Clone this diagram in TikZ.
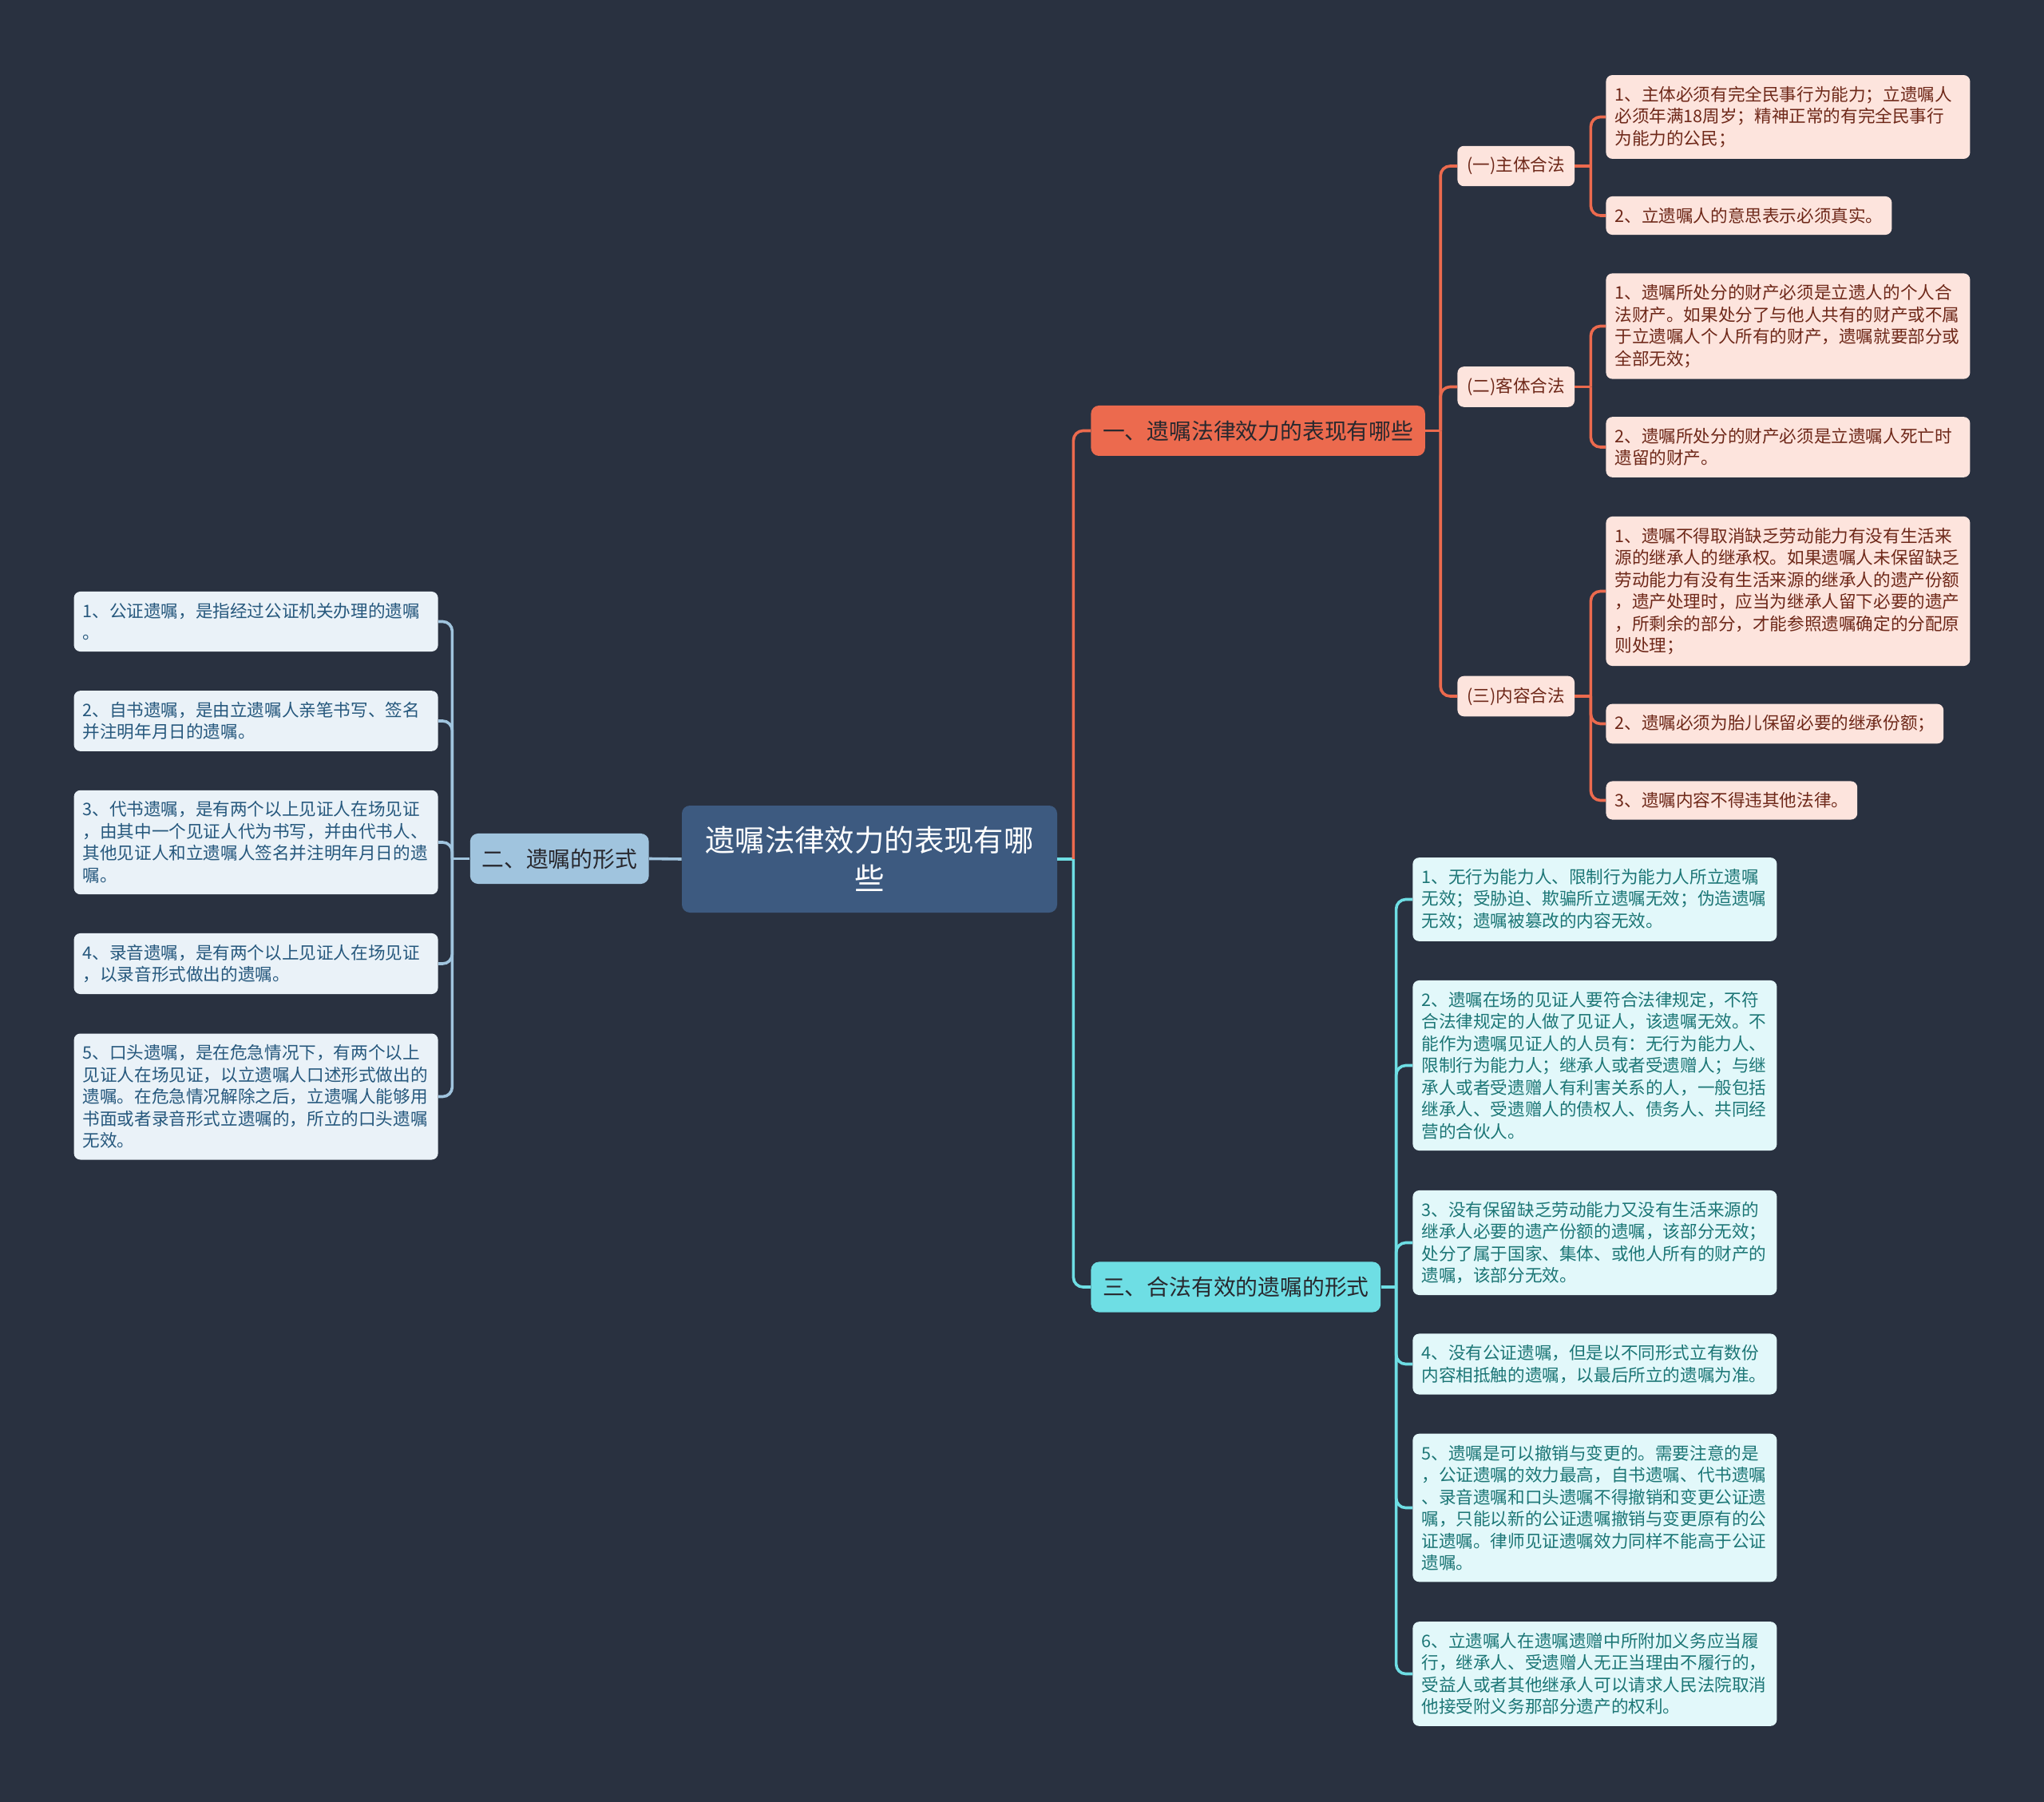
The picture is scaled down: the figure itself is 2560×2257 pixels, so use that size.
\documentclass[tikz,border=0pt]{standalone}
\usepackage{fontspec}
\setmainfont{Noto Sans CJK SC}
\usepackage{xcolor}
\usepackage{tikz}
\usetikzlibrary{positioning}
\definecolor{bgdark}{RGB}{41,49,64}
\definecolor{rootblue}{RGB}{61,90,128}
\definecolor{topicred}{RGB}{236,106,78}
\definecolor{leafred}{RGB}{253,228,221}
\definecolor{textred}{RGB}{110,40,25}
\definecolor{topicblue}{RGB}{160,196,222}
\definecolor{leafblue}{RGB}{234,242,248}
\definecolor{textblue}{RGB}{38,88,125}
\definecolor{topiccyan}{RGB}{110,222,228}
\definecolor{leafcyan}{RGB}{226,248,250}
\definecolor{textcyan}{RGB}{28,118,118}
\definecolor{textdark}{RGB}{40,40,46}

\begin{document}
\begin{tikzpicture}[
    x=0.5pt, y=-0.5pt,
    font=\fontsize{10.8pt}{13.75pt}\selectfont,
    box/.style={rounded corners=4pt, align=left, inner xsep=5.5pt, inner ysep=7pt},
    rootbox/.style={rounded corners=5pt, fill=rootblue, text=white, align=center, minimum width=235pt, minimum height=67pt, font=\fontsize{18.7pt}{23.9pt}\selectfont},
    topic/.style={rounded corners=5pt, inner xsep=7.3pt, inner ysep=9.3pt, text=textdark, font=\fontsize{13.9pt}{17pt}\selectfont},
    redtopic/.style={topic, fill=topicred},
    bluetopic/.style={topic, fill=topicblue},
    cyantopic/.style={topic, fill=topiccyan},
    redsub/.style={box, fill=leafred, text=textred, inner xsep=6pt},
    redleaf/.style={box, fill=leafred, text=textred, text width=217pt},
    redshort/.style={box, fill=leafred, text=textred},
    blueleaf/.style={box, fill=leafblue, text=textblue, text width=217pt},
    cyanleaf/.style={box, fill=leafcyan, text=textcyan, text width=217pt},
    redline/.style={draw=topicred, line width=1.8pt, rounded corners=6pt},
    blueline/.style={draw=topicblue, line width=1.8pt, rounded corners=6pt},
    cyanline/.style={draw=topiccyan, line width=1.8pt, rounded corners=6pt}
]
\fill[bgdark] (0,0) rectangle (2560,2257);
\useasboundingbox (0,0) rectangle (2560,2257);

% centre and main topics
\node[rootbox] (root) at (1089,1076) {遗嘱法律效力的表现有哪\\些};
\node[redtopic, anchor=west] (t1) at (1366,539.5) {一、遗嘱法律效力的表现有哪些};
\node[bluetopic, anchor=east] (t2) at (813,1075.5) {二、遗嘱的形式};
\node[cyantopic, anchor=west] (t3) at (1366,1612) {三、合法有效的遗嘱的形式};

% topic one
\node[redsub, anchor=west] (s1) at (1825,208) {(一)主体合法};
\node[redsub, anchor=west] (s2) at (1825,484.5) {(二)客体合法};
\node[redsub, anchor=west] (s3) at (1825,872) {(三)内容合法};

\node[redleaf, anchor=west] (s1a) at (2011,146.5) {1、主体必须有完全民事行为能力；立遗嘱人\\必须年满18周岁；精神正常的有完全民事行\\为能力的公民；};
\node[redshort, anchor=west] (s1b) at (2011,270) {2、立遗嘱人的意思表示必须真实。};
\node[redleaf, anchor=west] (s2a) at (2011,408.5) {1、遗嘱所处分的财产必须是立遗人的个人合\\法财产。如果处分了与他人共有的财产或不属\\于立遗嘱人个人所有的财产，遗嘱就要部分或\\全部无效；};
\node[redleaf, anchor=west] (s2b) at (2011,560) {2、遗嘱所处分的财产必须是立遗嘱人死亡时\\遗留的财产。};
\node[redleaf, anchor=west] (s3a) at (2011,740.5) {1、遗嘱不得取消缺乏劳动能力有没有生活来\\源的继承人的继承权。如果遗嘱人未保留缺乏\\劳动能力有没有生活来源的继承人的遗产份额\\，遗产处理时，应当为继承人留下必要的遗产\\，所剩余的部分，才能参照遗嘱确定的分配原\\则处理；};
\node[redshort, anchor=west] (s3b) at (2011,906.5) {2、遗嘱必须为胎儿保留必要的继承份额；};
\node[redshort, anchor=west] (s3c) at (2011,1002.5) {3、遗嘱内容不得违其他法律。};

% topic two
\node[blueleaf, anchor=east] (f1) at (549,778.5) {1、公证遗嘱，是指经过公证机关办理的遗嘱\\。};
\node[blueleaf, anchor=east] (f2) at (549,903) {2、自书遗嘱，是由立遗嘱人亲笔书写、签名\\并注明年月日的遗嘱。};
\node[blueleaf, anchor=east] (f3) at (549,1055) {3、代书遗嘱，是有两个以上见证人在场见证\\，由其中一个见证人代为书写，并由代书人、\\其他见证人和立遗嘱人签名并注明年月日的遗\\嘱。};
\node[blueleaf, anchor=east] (f4) at (549,1207) {4、录音遗嘱，是有两个以上见证人在场见证\\，以录音形式做出的遗嘱。};
\node[blueleaf, anchor=east] (f5) at (549,1373.5) {5、口头遗嘱，是在危急情况下，有两个以上\\见证人在场见证，以立遗嘱人口述形式做出的\\遗嘱。在危急情况解除之后，立遗嘱人能够用\\书面或者录音形式立遗嘱的，所立的口头遗嘱\\无效。};

% topic three
\node[cyanleaf, anchor=west] (v1) at (1769,1126.5) {1、无行为能力人、限制行为能力人所立遗嘱\\无效；受胁迫、欺骗所立遗嘱无效；伪造遗嘱\\无效；遗嘱被篡改的内容无效。};
\node[cyanleaf, anchor=west] (v2) at (1769,1334.5) {2、遗嘱在场的见证人要符合法律规定，不符\\合法律规定的人做了见证人，该遗嘱无效。不\\能作为遗嘱见证人的人员有：无行为能力人、\\限制行为能力人；继承人或者受遗赠人；与继\\承人或者受遗赠人有利害关系的人，一般包括\\继承人、受遗赠人的债权人、债务人、共同经\\营的合伙人。};
\node[cyanleaf, anchor=west] (v3) at (1769,1556.5) {3、没有保留缺乏劳动能力又没有生活来源的\\继承人必要的遗产份额的遗嘱，该部分无效；\\处分了属于国家、集体、或他人所有的财产的\\遗嘱，该部分无效。};
\node[cyanleaf, anchor=west] (v4) at (1769,1708.5) {4、没有公证遗嘱，但是以不同形式立有数份\\内容相抵触的遗嘱，以最后所立的遗嘱为准。};
\node[cyanleaf, anchor=west] (v5) at (1769,1888.5) {5、遗嘱是可以撤销与变更的。需要注意的是\\，公证遗嘱的效力最高，自书遗嘱、代书遗嘱\\、录音遗嘱和口头遗嘱不得撤销和变更公证遗\\嘱，只能以新的公证遗嘱撤销与变更原有的公\\证遗嘱。律师见证遗嘱效力同样不能高于公证\\遗嘱。};
\node[cyanleaf, anchor=west] (v6) at (1769,2096.5) {6、立遗嘱人在遗嘱遗赠中所附加义务应当履\\行，继承人、受遗赠人无正当理由不履行的，\\受益人或者其他继承人可以请求人民法院取消\\他接受附义务那部分遗产的权利。};

% junction points
\coordinate (jr) at ([xshift=10pt]root.east);
\coordinate (j1) at ([xshift=9.5pt]t1.east);
\coordinate (j2) at ([xshift=-11pt]t2.west);
\coordinate (j3) at ([xshift=9.5pt]t3.east);
\coordinate (js1) at ([xshift=10pt]s1.east);
\coordinate (js2) at ([xshift=10pt]s2.east);
\coordinate (js3) at ([xshift=10pt]s3.east);

\draw[cyanline] (root.east) -- (jr);
\draw[redline] (jr) |- (t1.west);
\draw[cyanline] (jr) |- (t3.west);
\draw[blueline] (root.west) -- (t2.east);

\draw[redline] (t1.east) -- (j1);
\draw[redline] (j1) |- (s1.west);
\draw[redline] (j1) |- (s2.west);
\draw[redline] (j1) |- (s3.west);

\draw[redline] (s1.east) -- (js1);
\draw[redline] (js1) |- (s1a.west);
\draw[redline] (js1) |- (s1b.west);
\draw[redline] (s2.east) -- (js2);
\draw[redline] (js2) |- (s2a.west);
\draw[redline] (js2) |- (s2b.west);
\draw[redline] (s3.east) -- (js3);
\draw[redline] (js3) |- (s3a.west);
\draw[redline] (js3) |- (s3b.west);
\draw[redline] (js3) |- (s3c.west);

\draw[blueline] (t2.west) -- (j2);
\draw[blueline] (j2) |- (f1.east);
\draw[blueline] (j2) |- (f2.east);
\draw[blueline] (j2) |- (f3.east);
\draw[blueline] (j2) |- (f4.east);
\draw[blueline] (j2) |- (f5.east);

\draw[cyanline] (t3.east) -- (j3);
\draw[cyanline] (j3) |- (v1.west);
\draw[cyanline] (j3) |- (v2.west);
\draw[cyanline] (j3) |- (v3.west);
\draw[cyanline] (j3) |- (v4.west);
\draw[cyanline] (j3) |- (v5.west);
\draw[cyanline] (j3) |- (v6.west);
\end{tikzpicture}
\end{document}
